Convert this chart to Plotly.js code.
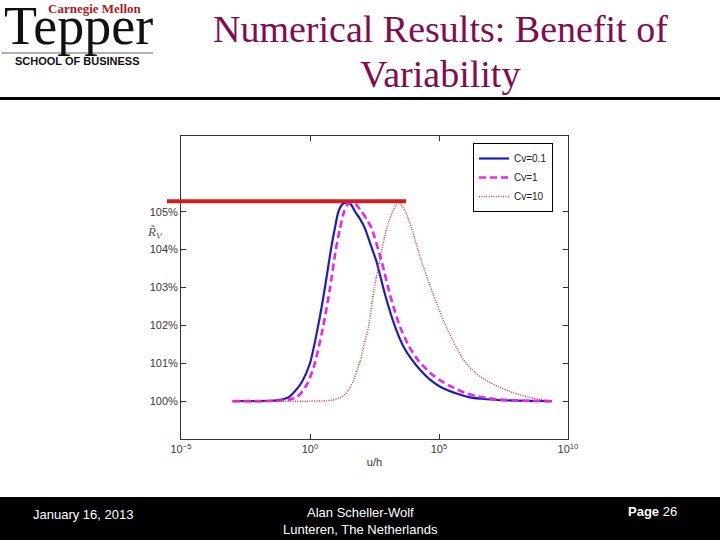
<!DOCTYPE html>
<html>
<head>
<meta charset="utf-8">
<script src="https://cdn.plot.ly/plotly-3.0.1.min.js"></script>
<style>html,body{margin:0;padding:0;background:#fff;}#chart{width:720px;height:540px;}</style>
</head>
<body>
<div id="chart"></div>
<script>
// ---- data (x read as log10(u/h), y in %) ----
const seriesNames = ["Cv=0.1", "Cv=1", "Cv=10"];
const blueExp = [-3, -2, -1.6, -1.29, -1.05, -0.84, -0.6, -0.32, 0.0, 0.32, 0.58, 0.81, 0.96, 1.1, 1.26, 1.42, 1.58, 1.75, 1.95, 2.13, 2.35, 2.58, 2.91, 3.29, 3.6, 3.94, 4.3, 4.65, 5.1, 5.68, 6.2, 6.85, 7.6, 8.5, 9.37];
const blueVal = [100, 100, 100.005, 100.02, 100.05, 100.1, 100.25, 100.5, 101, 102, 103, 104, 104.55, 105, 105.2, 105.25, 105.2, 105, 104.8, 104.56, 104.13, 103.68, 102.81, 101.98, 101.47, 101.1, 100.8, 100.57, 100.36, 100.2, 100.1, 100.05, 100.02, 100.005, 100];
const magExp = [-3, -2, -1.2, -0.85, -0.52, -0.3, -0.07, 0.19, 0.52, 0.78, 1.0, 1.16, 1.32, 1.47, 1.62, 1.78, 2.0, 2.2, 2.39, 2.78, 3.1, 3.49, 3.85, 4.2, 4.65, 5.04, 5.43, 6.0, 6.46, 7.2, 7.9, 8.6, 9.37];
const magVal = [100, 100, 100.01, 100.04, 100.1, 100.25, 100.5, 101, 102, 103, 104, 104.55, 105, 105.2, 105.25, 105.2, 105, 104.8, 104.56, 103.68, 102.81, 101.96, 101.43, 101.07, 100.75, 100.55, 100.4, 100.22, 100.13, 100.05, 100.02, 100.005, 100];
const redExp = [-3, -1, 0, 0.65, 0.9, 1.16, 1.36, 1.5, 1.68, 1.94, 2.1, 2.26, 2.45, 2.69, 2.97, 3.2, 3.42, 3.7, 3.94, 4.33, 4.78, 5.3, 5.94, 6.4, 6.78, 7.3, 7.88, 8.5, 8.91, 9.37];
const redVal = [100, 100, 100, 100.01, 100.03, 100.09, 100.18, 100.3, 100.53, 101.05, 101.5, 101.93, 102.81, 103.68, 104.56, 105, 105.25, 105, 104.56, 103.68, 102.81, 101.93, 101.1, 100.75, 100.57, 100.38, 100.22, 100.1, 100.04, 100];
const xTickVals = [1e-5, 1, 1e5, 1e10];
const xTickText = ["10<sup>−5</sup>", "10<sup>0</sup>", "10<sup>5</sup>", "10<sup>10</sup>"];
const yTickVals = [100, 101, 102, 103, 104, 105];
const yTickText = ["100%", "101%", "102%", "103%", "104%", "105%"];
const peakLevel = 105.28;

// ---- layout helpers (pixel -> paper) ----
const L = 181, R = 568, T = 136, B = 439;
const ax = x => (x - L) / (R - L);
const ay = y => (B - y) / (B - T);
const toX = e => e.map(v => Math.pow(10, v));

const traces = [
  {x: toX(blueExp), y: blueVal, name: seriesNames[0], mode: 'lines',
   line: {color: '#1c1cc8', width: 2.2, shape: 'spline', smoothing: 0.6}},
  {x: toX(magExp), y: magVal, name: seriesNames[1], mode: 'lines',
   line: {color: '#f022f0', width: 2.6, dash: '7px,4px', shape: 'spline', smoothing: 0.6}},
  {x: toX(redExp), y: redVal, name: seriesNames[2], mode: 'lines',
   line: {color: '#e53538', width: 1.5, dash: '1px,1.4px', shape: 'spline', smoothing: 0.6}}
];

const footFont = {family: 'Liberation Sans Narrow, Liberation Sans, Arial', size: 13, color: '#fff'};
const tickFont = {family: 'Liberation Sans, Arial', size: 11, color: '#3a3a3a'};
const layout = {
  width: 720, height: 540,
  margin: {l: L, r: 720 - R, t: T, b: 540 - B},
  paper_bgcolor: '#fff', plot_bgcolor: '#fff',
  showlegend: true,
  legend: {x: ax(473), y: ay(143), xanchor: 'left', yanchor: 'top',
           bordercolor: '#000', borderwidth: 1, bgcolor: '#fff',
           font: {family: 'Liberation Sans, Arial', size: 10, color: '#222'},
           tracegroupgap: 0, itemwidth: 30},
  xaxis: {type: 'log', range: [-5, 10], tickvals: xTickVals, ticktext: xTickText,
          showgrid: false, zeroline: false, showline: true, linecolor: '#333', linewidth: 1,
          mirror: 'ticks', ticks: 'inside', ticklen: 5, tickcolor: '#333',
          tickfont: tickFont,
          title: {text: 'u/h', font: {family: 'Liberation Sans, Arial', size: 11, color: '#333'}, standoff: 4}},
  yaxis: {range: [99, 107], tickvals: yTickVals, ticktext: yTickText,
          showgrid: false, zeroline: false, showline: true, linecolor: '#333', linewidth: 1,
          mirror: 'ticks', ticks: 'inside', ticklen: 5, tickcolor: '#333',
          tickfont: tickFont},
  shapes: [
    {type: 'rect', xref: 'paper', yref: 'paper', x0: ax(0), x1: ax(720), y0: ay(97), y1: ay(100),
     fillcolor: '#000', line: {width: 0}},
    {type: 'rect', xref: 'paper', yref: 'paper', x0: ax(0), x1: ax(720), y0: ay(497), y1: ay(540),
     fillcolor: '#000', line: {width: 0}},
    {type: 'line', xref: 'paper', yref: 'paper', x0: ax(2), x1: ax(153), y0: ay(53), y1: ay(53),
     line: {color: '#666', width: 1}},
    {type: 'line', xref: 'paper', yref: 'y', x0: ax(167), x1: ax(406), y0: peakLevel, y1: peakLevel,
     line: {color: '#d41c1c', width: 4}}
  ],
  annotations: [
    {text: 'Numerical Results: Benefit of', xref: 'paper', yref: 'paper', x: ax(440), y: ay(29),
     xanchor: 'center', yanchor: 'middle', showarrow: false,
     font: {family: 'Liberation Serif, Times New Roman', size: 38, color: '#820c4e'}},
    {text: 'Variability', xref: 'paper', yref: 'paper', x: ax(440), y: ay(74),
     xanchor: 'center', yanchor: 'middle', showarrow: false,
     font: {family: 'Liberation Serif, Times New Roman', size: 38, color: '#820c4e'}},
    {text: 'Tepper', xref: 'paper', yref: 'paper', x: ax(78), y: ay(26),
     xanchor: 'center', yanchor: 'middle', showarrow: false,
     font: {family: 'Liberation Serif, Times New Roman', size: 54, color: '#111'}},
    {text: '<b>Carnegie Mellon</b>', xref: 'paper', yref: 'paper', x: ax(95), y: ay(8),
     xanchor: 'center', yanchor: 'middle', showarrow: false,
     font: {family: 'Liberation Serif, Times New Roman', size: 13, color: '#b01a24'}},
    {text: '<b>SCHOOL OF BUSINESS</b>', xref: 'paper', yref: 'paper', x: ax(77), y: ay(61),
     xanchor: 'center', yanchor: 'middle', showarrow: false,
     font: {family: 'Liberation Sans, Arial', size: 11, color: '#111'}},
    {text: '<i>R̃<sub>V</sub></i>', xref: 'paper', yref: 'paper', x: ax(155), y: ay(232),
     xanchor: 'center', yanchor: 'middle', showarrow: false,
     font: {family: 'Liberation Serif, Times New Roman', size: 13, color: '#555'}},
    {text: 'January 16, 2013', xref: 'paper', yref: 'paper', x: ax(83), y: ay(514),
     xanchor: 'center', yanchor: 'middle', showarrow: false, font: footFont},
    {text: 'Alan Scheller-Wolf', xref: 'paper', yref: 'paper', x: ax(360), y: ay(512),
     xanchor: 'center', yanchor: 'middle', showarrow: false, font: footFont},
    {text: 'Lunteren, The Netherlands', xref: 'paper', yref: 'paper', x: ax(360), y: ay(529),
     xanchor: 'center', yanchor: 'middle', showarrow: false, font: footFont},
    {text: '<b>Page</b> 26', xref: 'paper', yref: 'paper', x: ax(652), y: ay(511),
     xanchor: 'center', yanchor: 'middle', showarrow: false, font: footFont}
  ]
};

Plotly.newPlot('chart', traces, layout, {staticPlot: true, displayModeBar: false});
</script>
</body>
</html>
